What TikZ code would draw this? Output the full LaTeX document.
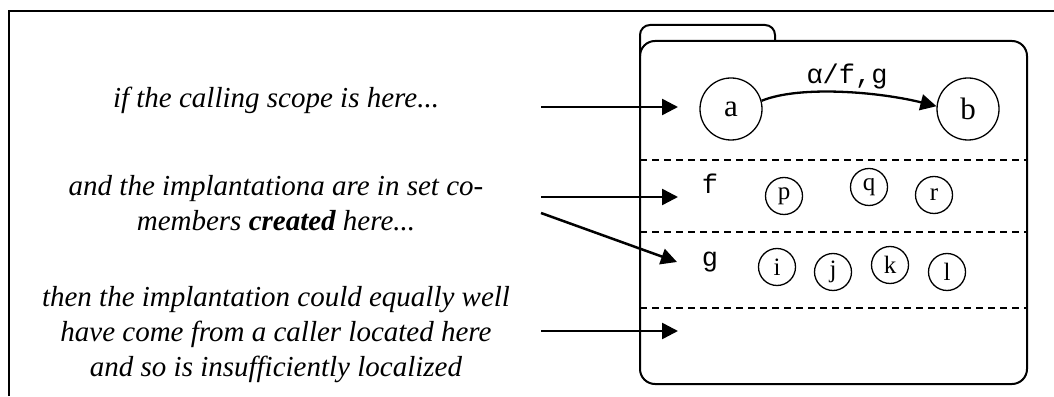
\documentclass[tikz,border=0pt]{standalone}
\usepackage{fontspec}
\setmainfont{Liberation Serif}
\setmonofont{Liberation Mono}
\usetikzlibrary{arrows.meta}

\begin{document}
\begin{tikzpicture}[x=1pt, y=1pt,
    state/.style={circle, draw, line width=1.3pt, minimum size=62pt, inner sep=0pt, font=\fontsize{31}{34}\selectfont},
    member/.style={circle, draw, line width=1.3pt, minimum size=37pt, inner sep=0pt, font=\fontsize{25}{28}\selectfont},
    note/.style={align=center, font=\fontsize{29}{35}\selectfont\itshape},
    setname/.style={font=\fontsize{27}{30}\selectfont\ttfamily},
    divider/.style={line width=1.3pt, dash pattern=on 7pt off 5pt},
    call/.style={line width=2.5pt, -{Triangle[length=16pt, width=16pt]}}]
  \useasboundingbox (0,0) rectangle (1054,396);

  % Frame
  \draw[line width=2pt] (9,0) -- (9,385) -- (1054,385);

  % Package
  \draw[line width=2pt, rounded corners=10pt] (640,340) -- (640,371) -- (775,371) -- (775,355);
  \draw[line width=2pt, rounded corners=15pt] (640,12) rectangle (1027,355);
  \draw[divider] (640,236) -- (1027,236);
  \draw[divider] (640,164) -- (1027,164);
  \draw[divider] (640,88) -- (1027,88);

  % States
  \node[state] (a) at (731,287) {a};
  \node[state] (b) at (968,287) {b};
  \node[setname] (lbl) at (847,319) {α/f,g};
  \draw[line width=2.3pt, -{Triangle[length=16pt, width=16pt]}] (a.15) .. controls (800,311) and (880,304) .. (b.175);

  % Sets
  \node[setname] (f) at (710,212) {f};
  \node[setname] (g) at (710,134) {g};
  \node[member] (p) at (784,200) {p};
  \node[member] (q) at (869,209) {q};
  \node[member] (r) at (934,201) {r};
  \node[member] (i) at (777,129) {i};
  \node[member] (j) at (833,124) {j};
  \node[member] (k) at (890,131) {k};
  \node[member] (l) at (947,124) {l};

  % Notes
  \node[note] (n1) at (276,296) {if the calling scope is here...};
  \node[note] (n2) at (276,193) {and the implantationa are in set co-\\members \textbf{created} here...};
  \node[note] (n3) at (276,61) {then the implantation could equally well\\have come from a caller located here\\and so is insufficiently localized};

  % Arrows
  \coordinate (s1) at (541,289);
  \coordinate (e1) at (678,289);
  \coordinate (s2) at (541,199);
  \coordinate (e2) at (678,199);
  \coordinate (s3) at (541,183);
  \coordinate (e3) at (677,134);
  \coordinate (s4) at (541,65);
  \coordinate (e4) at (678,65);
  \draw[call] (s1) -- (e1);
  \draw[call] (s2) -- (e2);
  \draw[call] (s3) -- (e3);
  \draw[call] (s4) -- (e4);
\end{tikzpicture}
\end{document}
